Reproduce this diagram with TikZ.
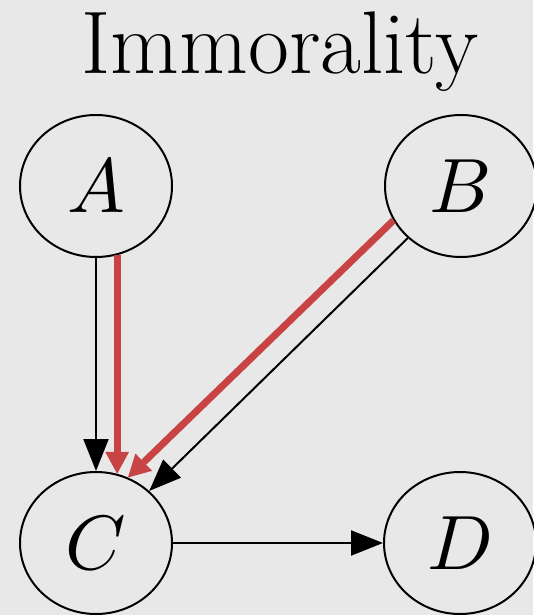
\documentclass[tikz,border=0pt]{standalone}
\usepackage{graphicx}
\usetikzlibrary{shapes.geometric,arrows.meta}
\definecolor{bg}{RGB}{232,232,232}
\definecolor{redline}{RGB}{200,68,68}
\newcommand{\bigvar}[1]{\scalebox{7.7}{$#1$}}
\begin{document}
\begin{tikzpicture}[x=1pt,y=-1pt,
  var/.style={draw, line width=2pt, ellipse, minimum width=152pt, minimum height=142pt, inner sep=0pt},
  blackarrow/.style={line width=2pt, -{Triangle[length=32pt,width=25pt]}},
  redarrow/.style={color=redline, line width=7pt, -{Triangle[length=22pt,width=24pt,line width=0pt]}}
]
\fill[bg] (0,0) rectangle (533,615);
\useasboundingbox (0,0) rectangle (533,615);
\node[anchor=base, inner sep=0pt, font=\fontsize{89}{92}\selectfont] (title) at (280,74) {Immorality};
\node[var] (A) at (96,186) {\bigvar{A}};
\node[var] (B) at (461,186) {\bigvar{B}};
\node[var] (C) at (96,543) {\bigvar{C}};
\node[var] (D) at (460,543) {\bigvar{D}};
\draw[blackarrow] (A) -- (C);
\draw[blackarrow] (B) -- (C);
\draw[blackarrow] (C) -- (D);
\draw[redarrow] (A.-73) -- (C.73);
\draw[redarrow] (B.207) -- (C.64);
\end{tikzpicture}
\end{document}
